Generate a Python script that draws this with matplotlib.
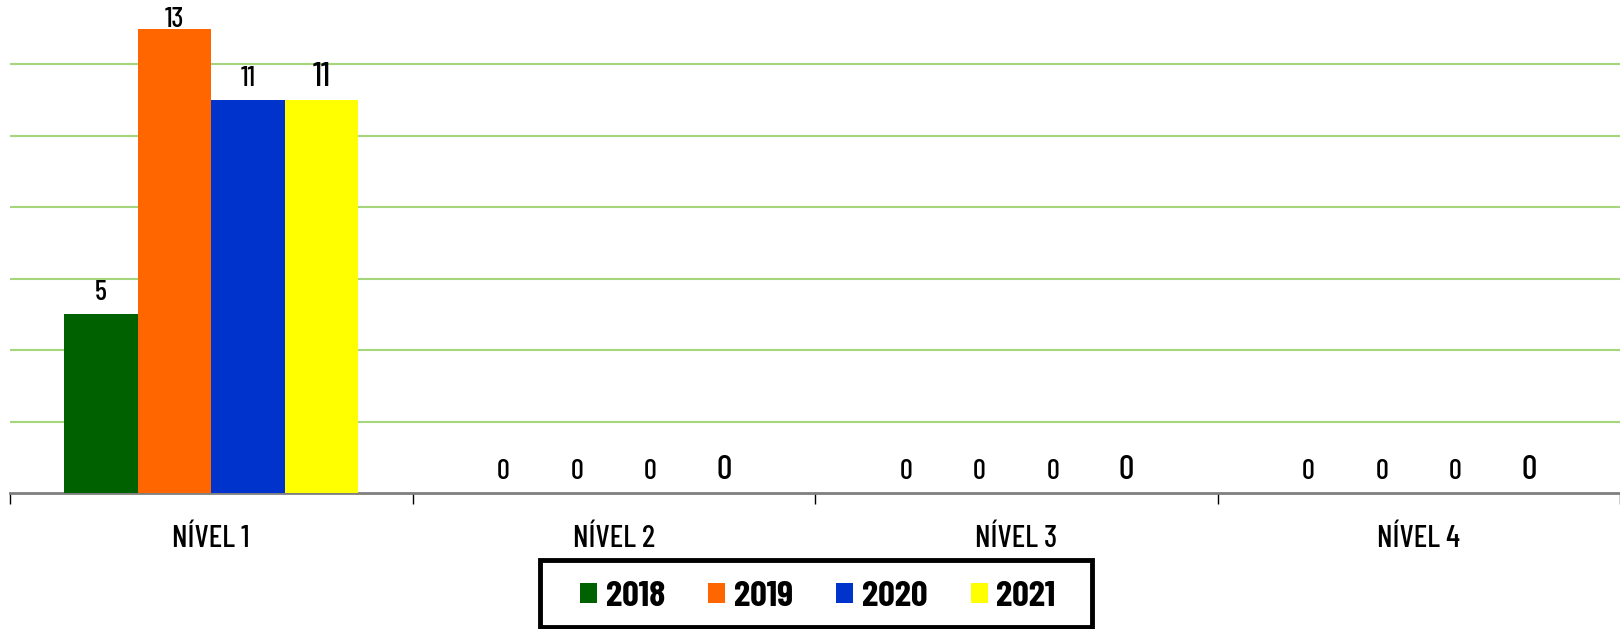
import numpy as np
import matplotlib
matplotlib.use('Agg')
import matplotlib.pyplot as plt
from matplotlib.patches import Rectangle

categories = ['NÍVEL 1', 'NÍVEL 2', 'NÍVEL 3', 'NÍVEL 4']
years = ['2018', '2019', '2020', '2021']
values = {
    '2018': [5, 0, 0, 0],
    '2019': [13, 0, 0, 0],
    '2020': [11, 0, 0, 0],
    '2021': [11, 0, 0, 0],
}
colors = ['#006100', '#FF6600', '#0033CC', '#FFFF00']

plt.rcParams['font.family'] = ['Barlow Condensed', 'DejaVu Sans']

W, H = 1620, 629
fig = plt.figure(figsize=(W / 100, H / 100), dpi=100)
ax = fig.add_axes([10 / W, (H - 493) / H, 1 - 10 / W, 493 / H])

x = np.arange(len(categories))
width = 0.1826
for i, year in enumerate(years):
    pos = x + (i - 1.5) * width
    ax.bar(pos, values[year], width, color=colors[i], label=year, zorder=3)
    size = 24.5 if year == '2021' else 20.5
    for px, v in zip(pos, values[year]):
        off = 10 if v < 13 else 1
        ax.annotate(str(v), (px, v), xytext=(0, off), textcoords='offset points',
                    ha='center', va='baseline', fontsize=size, fontweight='medium',
                    color='black', annotation_clip=False)

ax.set_xlim(-0.5, 3.5)
ax.set_ylim(0, 13.8)
ax.set_yticks([2, 4, 6, 8, 10, 12])
ax.yaxis.grid(True, color='#A6D67C', linewidth=1.5, zorder=0)
ax.tick_params(axis='y', left=False, labelleft=False)
for s in ['top', 'right', 'left']:
    ax.spines[s].set_visible(False)
ax.spines['bottom'].set_color('#7F7F7F')
ax.spines['bottom'].set_linewidth(2)

ax.set_xticks(x)
ax.set_xticklabels(categories, fontsize=22.5, fontweight='medium')
ax.tick_params(axis='x', length=0, pad=23)
ax.set_xticks(np.arange(-0.5, 3.6, 1), minor=True)
ax.tick_params(axis='x', which='minor', length=8, width=1, color='black')

# legend box drawn separately, legend itself without frame
fig.patches.append(Rectangle((540 / W, 1 - 627 / H), 552 / W, 67 / H, transform=fig.transFigure,
                             fill=False, edgecolor='black', linewidth=3.5))
leg = fig.legend(loc='center', bbox_to_anchor=(818 / W, 1 - 597 / H), ncol=4,
                 prop={'family': 'Barlow Condensed', 'weight': 'bold', 'size': 26.5},
                 handlelength=0.46, handleheight=0.46,
                 handletextpad=0.24, columnspacing=1.17, borderpad=0,
                 frameon=False)

fig.savefig('out.png', dpi=100)
